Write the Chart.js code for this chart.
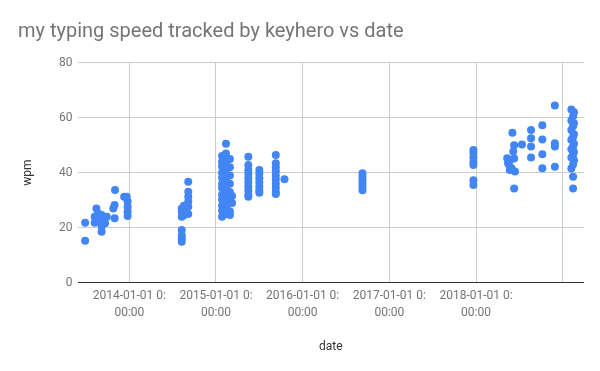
<!DOCTYPE html>
<html>
<head>
<meta charset="utf-8">
<script src="https://cdn.jsdelivr.net/npm/chart.js@4.4.1/dist/chart.umd.min.js"></script>
<style>
  html, body { margin: 0; padding: 0; background: #fff; }
  #wrap { width: 600px; height: 371px; }
</style>
</head>
<body>
<div id="wrap"><canvas id="myChart" width="600" height="371"></canvas></div>
<script>
// dates as decimal years
const dates = [
    2013.49, 2013.49,
    2013.62, 2013.64, 2013.68, 2013.71, 2013.66, 2013.72, 2013.68, 2013.68, 2013.74, 2013.60, 2013.60,
    2013.835, 2013.83, 2013.815, 2013.83,
    2013.94, 2013.97, 2013.98, 2013.98, 2013.98, 2013.98,
    2014.605, 2014.605, 2014.605, 2014.605, 2014.605, 2014.605, 2014.605,
    2014.63, 2014.63, 2014.63,
    2014.68, 2014.68, 2014.68, 2014.68, 2014.68, 2014.68,
    2015.07, 2015.07, 2015.07, 2015.07, 2015.07, 2015.07, 2015.07, 2015.07, 2015.07, 2015.07, 2015.07, 2015.07,
    2015.115, 2015.115, 2015.115, 2015.115, 2015.115, 2015.115, 2015.115, 2015.115, 2015.115, 2015.115, 2015.115, 2015.115, 2015.115,
    2015.16, 2015.16, 2015.16, 2015.16, 2015.16, 2015.16, 2015.16, 2015.16,
    2015.185, 2015.185,
    2015.373, 2015.373, 2015.373, 2015.373, 2015.373, 2015.373, 2015.373, 2015.373, 2015.373, 2015.373,
    2015.50, 2015.50, 2015.50, 2015.50, 2015.50, 2015.50, 2015.50,
    2015.69, 2015.69, 2015.69, 2015.69, 2015.69, 2015.69, 2015.69, 2015.69, 2015.69, 2015.69,
    2015.79,
    2016.69, 2016.69, 2016.69, 2016.69, 2016.69, 2016.69,
    2017.97, 2017.97, 2017.97, 2017.97, 2017.97, 2017.97, 2017.97,
    2018.42, 2018.44, 2018.43, 2018.39, 2018.37, 2018.41, 2018.45, 2018.39, 2018.44, 2018.44, 2018.53, 2018.36, 2018.38,
    2018.635, 2018.635, 2018.635, 2018.635,
    2018.765, 2018.765, 2018.765, 2018.765,
    2018.91, 2018.91, 2018.91, 2018.91,
    2019.10, 2019.13, 2019.12, 2019.10, 2019.13, 2019.12, 2019.10, 2019.13, 2019.12, 2019.10, 2019.13,
    2019.12, 2019.10, 2019.13, 2019.12, 2019.10, 2019.13, 2019.12, 2019.10, 2019.12, 2019.12
];

const wpm = [
    15.3, 21.8,
    27, 25.2, 24.6, 23.4, 22.2, 21.6, 20.4, 18.5, 24, 24, 21.8,
    33.7, 28.3, 27, 23.4,
    31.3, 31.3, 29.5, 27.6, 25.8, 24.3,
    14.9, 16.2, 17.3, 19.2, 24, 25.8, 27,
    24.5, 26.4, 28,
    29.5, 31.3, 33.1, 36.7, 27.6, 25,
    24, 26.2, 28, 30.3, 32, 34.4, 36, 38.2, 40, 42.3, 44, 46.1,
    25, 27.5, 29, 31, 33.2, 35, 37, 39.3, 41, 43.2, 45, 47, 50.5,
    24.6, 26, 30, 33, 36, 39, 42, 45,
    29, 31.5,
    45.8, 42.8, 41, 39.5, 38, 36.5, 35, 33.5, 32, 31.3,
    41, 39.5, 38, 36.5, 35, 33.5, 32.7,
    46.4, 43.4, 42, 40.5, 39, 37.5, 36, 34.5, 33, 32.3,
    37.6,
    39.8, 38.5, 37.3, 36, 34.8, 33.6,
    48.3, 47, 45.5, 44, 42.8, 37.3, 35.5,
    54.5, 50, 47.7, 44.6, 43.4, 41.6, 40.4, 41, 34.3, 45.2, 50.3, 45.3, 43,
    55.5, 52.5, 49.5, 45.5,
    57.3, 52.1, 46.7, 41.6,
    64.4, 50.7, 49.5, 42.2,
    63, 62, 60.5, 59, 58, 57, 55.5, 54, 53, 52, 50.5,
    49.5, 48.5, 47.5, 46.5, 45.5, 44.5, 43, 41.5, 38.5, 34.3
];

const yearTicks = [2014, 2015, 2016, 2017, 2018];

const points = dates.map((d, i) => ({ x: d, y: wpm[i] }));

const data = {
    datasets: [{
        label: "wpm",
        data: points,
        backgroundColor: "#4285f4",
        borderWidth: 0,
        pointRadius: 4,
        pointHoverRadius: 4
    }]
};

const config = {
    type: "scatter",
    data: data,
    options: {
        responsive: false,
        animation: false,
        layout: {
            padding: { left: 18, right: 16, top: 0, bottom: 0 }
        },
        plugins: {
            legend: { display: false },
            tooltip: { enabled: false },
            title: {
                display: true,
                text: "my typing speed tracked by keyhero vs date",
                align: "start",
                color: "#757575",
                font: { family: "Roboto", size: 20, weight: "normal" },
                padding: { top: 20, bottom: 18.7 }
            }
        },
        scales: {
            x: {
                type: "linear",
                min: 2013.402,
                max: 2019.246,
                afterFit: scale => { scale.height = 88.3; },
                border: { display: false },
                grid: { color: "#cccccc", drawTicks: false },
                ticks: {
                    stepSize: 1,
                    includeBounds: false,
                    autoSkip: false,
                    maxRotation: 0,
                    padding: 4.6,
                    color: "#757575",
                    font: { family: "Roboto", size: 12, lineHeight: 1.45 },
                    callback: value => yearTicks.includes(value) ? [value + "-01-01 0:", "00:00"] : ""
                },
                title: {
                    display: true,
                    text: "date",
                    color: "#333333",
                    font: { family: "Roboto", size: 12 },
                    padding: { top: 0, bottom: 16.8 }
                }
            },
            y: {
                min: 0,
                max: 80,
                afterFit: scale => { scale.width = 59.5; },
                border: { display: false },
                grid: {
                    color: ctx => ctx.tick && ctx.tick.value === 0 ? "#333333" : "#cccccc",
                    drawTicks: false
                },
                ticks: {
                    stepSize: 20,
                    padding: 5,
                    color: "#757575",
                    font: { family: "Roboto", size: 12 }
                },
                title: {
                    display: true,
                    text: "wpm",
                    color: "#333333",
                    font: { family: "Roboto", size: 12 },
                    padding: { top: 3.1, bottom: 0 }
                }
            }
        }
    }
};

new Chart(document.getElementById("myChart"), config);
</script>
</body>
</html>
